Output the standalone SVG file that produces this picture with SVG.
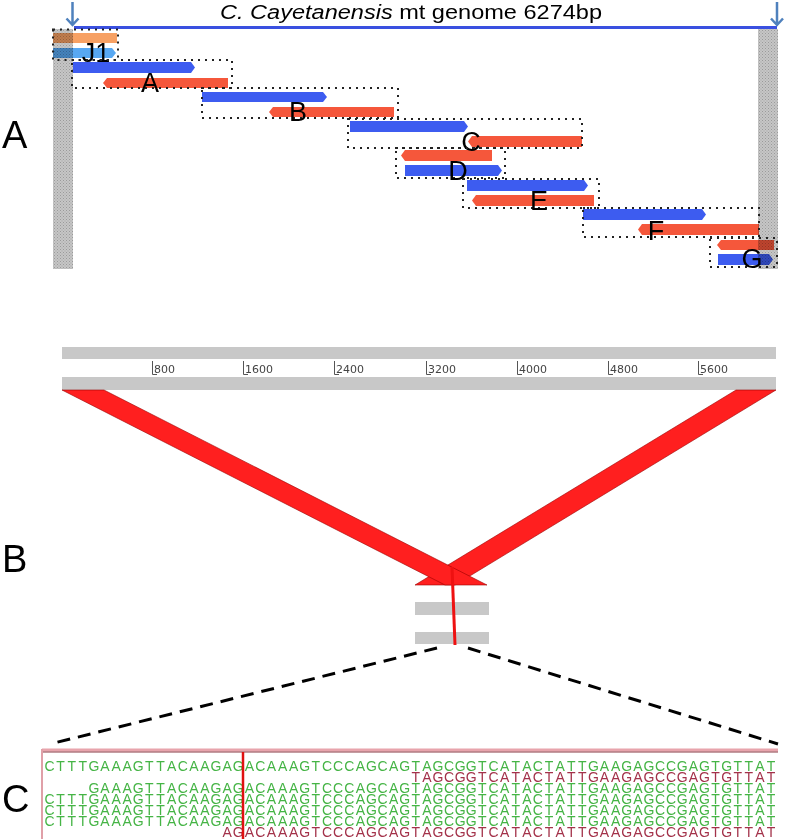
<svg xmlns="http://www.w3.org/2000/svg" width="789" height="839" viewBox="0 0 789 839">
<defs>
<pattern id="hatch" width="3" height="3" patternUnits="userSpaceOnUse">
<rect width="3" height="3" fill="#c6c6c6"/>
<rect width="1" height="1" fill="#9a9a9a"/>
<rect x="1.5" y="1.5" width="1" height="1" fill="#a4a4a4"/>
</pattern>
</defs>
<style>
.big{font-family:"Liberation Sans",Arial,sans-serif;font-size:38px;fill:#000}
.lbl{font-family:"Liberation Sans",Arial,sans-serif;font-size:27px;fill:#000;text-anchor:middle}
.title{font-family:"Liberation Sans",Arial,sans-serif;font-size:20px;fill:#000}
.blue{fill:#3d5cf0;mix-blend-mode:multiply}
.red{fill:#f5573b;mix-blend-mode:multiply}
.lorange{fill:#f7a164;mix-blend-mode:multiply}
.lblue{fill:#58a8f2;mix-blend-mode:multiply}
.box{fill:none;stroke:#222;stroke-width:2;stroke-dasharray:2 5}
.gray{fill:url(#hatch)}
.pin{fill:none;stroke:#4f81bd;stroke-width:2.5}
.ruler{fill:#c8c8c8}
.tick{fill:none;stroke:#555;stroke-width:1}
.rt{font-family:"DejaVu Sans",sans-serif;font-size:11px;fill:#444}
.band{fill:#ff1f1f;stroke:#9a0000;stroke-width:0.6}
.dash{fill:none;stroke:#000;stroke-width:3;stroke-dasharray:13 8}
.seq{font-family:"Liberation Sans",Arial,sans-serif;font-size:14px;text-anchor:middle}
.g{fill:#45b445}
.r{fill:#a3324a}
</style>

<g id="panel-labels">
<text class="big" x="2" y="148">A</text>
<text class="big" x="2" y="572">B</text>
<text class="big" x="2" y="812">C</text>
</g>

<g id="genome">
<text class="title" x="220" y="19" textLength="382" lengthAdjust="spacingAndGlyphs"><tspan font-style="italic">C. Cayetanensis</tspan> mt genome 6274bp</text>
<line x1="74" y1="27.5" x2="777" y2="27.5" stroke="#3a50e0" stroke-width="3"/>
<path class="pin" d="M72.5,2 V25 M66.5,18.5 L72.5,25 L78.5,18.5"/>
<path class="pin" d="M777,2 V25 M771,18.5 L777,25 L783,18.5"/>
<rect class="gray" x="53" y="29" width="20" height="240"/>
<rect class="gray" x="758" y="29" width="20" height="240"/>
</g>

<g id="J1">
<rect class="lorange" x="53" y="33" width="64" height="10"/>
<polygon class="lblue" points="53,48 112,48 116,53 112,58 53,58"/>
<rect class="box" x="53" y="29.5" width="65" height="30.5"/>
<text class="lbl" x="96" y="62">J1</text>
</g>

<g id="A">
<polygon class="blue" points="73,62 191,62 195,67.5 191,73 73,73"/>
<polygon class="red" points="107,78 228,78 228,88 107,88 103,83"/>
<rect class="box" x="72" y="60" width="160" height="28"/>
<text class="lbl" x="150" y="92">A</text>
</g>

<g id="B">
<polygon class="blue" points="202,92 323,92 327,97 323,102 202,102"/>
<polygon class="red" points="273,107 394,107 394,117 273,117 269,112"/>
<rect class="box" x="202" y="88" width="196" height="30"/>
<text class="lbl" x="298" y="121">B</text>
</g>

<g id="C">
<polygon class="blue" points="350,121 464,121 468,126.5 464,132 350,132"/>
<polygon class="red" points="472,136 582,136 582,147 472,147 468,141.5"/>
<rect class="box" x="348" y="119" width="234" height="29"/>
<text class="lbl" x="471" y="151">C</text>
</g>

<g id="D">
<polygon class="red" points="405,150 492,150 492,161 405,161 401,155.5"/>
<polygon class="blue" points="405,165 498,165 502,170.5 498,176 405,176"/>
<rect class="box" x="396" y="148" width="109" height="30"/>
<text class="lbl" x="458" y="180">D</text>
</g>

<g id="E">
<polygon class="blue" points="467,180 584,180 588,185.5 584,191 467,191"/>
<polygon class="red" points="476,195 594,195 594,206 476,206 472,200.5"/>
<rect class="box" x="463" y="179" width="136" height="29"/>
<text class="lbl" x="539" y="210">E</text>
</g>

<g id="F">
<polygon class="blue" points="583,209 702,209 706,214.5 702,220 583,220"/>
<polygon class="red" points="642,224 759,224 759,235 642,235 638,229.5"/>
<rect class="box" x="583" y="208" width="176" height="29"/>
<text class="lbl" x="656" y="240">F</text>
</g>

<g id="G">
<polygon class="red" points="721,240 774,240 774,250 721,250 717,245"/>
<polygon class="blue" points="718,254 769,254 773,259.5 769,265 718,265"/>
<rect class="box" x="710" y="238" width="67" height="29"/>
<text class="lbl" x="752" y="268">G</text>
</g>

<g id="ruler">
<rect class="ruler" x="62" y="347" width="714" height="12"/>
<rect class="ruler" x="62" y="377" width="714" height="13"/>
<path class="tick" d="M152.5,361 V374.5 H157 M243.5,361 V374.5 H248 M334.5,361 V374.5 H339 M426.5,361 V374.5 H431 M517.5,361 V374.5 H522 M608.5,361 V374.5 H613 M698.5,361 V374.5 H703"/>
<text class="rt" x="154" y="373">800</text>
<text class="rt" x="245" y="373">1600</text>
<text class="rt" x="336" y="373">2400</text>
<text class="rt" x="428" y="373">3200</text>
<text class="rt" x="519" y="373">4000</text>
<text class="rt" x="610" y="373">4800</text>
<text class="rt" x="700" y="373">5600</text>
</g>

<g id="zoom-bars">
<rect class="ruler" x="415" y="602" width="74" height="13"/>
<rect class="ruler" x="415" y="632" width="74" height="12"/>
</g>

<g id="connectors">
<polygon class="band" points="736,390 776,390 455,585 415,585"/>
<polygon class="band" points="62,390 104,390 487,585 445,585"/>
<line x1="452" y1="567" x2="455" y2="645" stroke="#ee1111" stroke-width="3"/>
<line class="dash" x1="437" y1="648" x2="50" y2="744"/>
<line class="dash" x1="468" y1="648" x2="778" y2="744"/>
</g>

<g id="alignment">
<line x1="42" y1="750" x2="778" y2="750" stroke="#e8a4ac" stroke-width="3"/>
<line x1="42" y1="752" x2="778" y2="752" stroke="#8a3a44" stroke-width="1"/>
<line x1="42" y1="749" x2="42" y2="839" stroke="#e0a0a8" stroke-width="2"/>
<text class="seq g" y="771" x="49.5 60.6 71.7 82.8 93.9 105 116.1 127.2 138.3 149.4 160.5 171.6 182.7 193.8 204.9 216 227.1 238.2 249.3 260.4 271.5 282.6 293.7 304.8 315.9 327 338.1 349.2 360.3 371.4 382.5 393.6 404.7 415.8 426.9 438 449.1 460.2 471.3 482.4 493.5 504.6 515.7 526.8 537.9 549 560.1 571.2 582.3 593.4 604.5 615.6 626.7 637.8 648.9 660 671.1 682.2 693.3 704.4 715.5 726.6 737.7 748.8 759.9 771">CTTTGAAAGTTACAAGAGACAAAGTCCCAGCAGTAGCGGTCATACTATTGAAGAGCCGAGTGTTAT</text>
<text class="seq r" y="782" x="415.8 426.9 438 449.1 460.2 471.3 482.4 493.5 504.6 515.7 526.8 537.9 549 560.1 571.2 582.3 593.4 604.5 615.6 626.7 637.8 648.9 660 671.1 682.2 693.3 704.4 715.5 726.6 737.7 748.8 759.9 771">TAGCGGTCATACTATTGAAGAGCCGAGTGTTAT</text>
<text class="seq g" y="793" x="93.9 105 116.1 127.2 138.3 149.4 160.5 171.6 182.7 193.8 204.9 216 227.1 238.2 249.3 260.4 271.5 282.6 293.7 304.8 315.9 327 338.1 349.2 360.3 371.4 382.5 393.6 404.7 415.8 426.9 438 449.1 460.2 471.3 482.4 493.5 504.6 515.7 526.8 537.9 549 560.1 571.2 582.3 593.4 604.5 615.6 626.7 637.8 648.9 660 671.1 682.2 693.3 704.4 715.5 726.6 737.7 748.8 759.9 771">GAAAGTTACAAGAGACAAAGTCCCAGCAGTAGCGGTCATACTATTGAAGAGCCGAGTGTTAT</text>
<text class="seq g" y="804" x="49.5 60.6 71.7 82.8 93.9 105 116.1 127.2 138.3 149.4 160.5 171.6 182.7 193.8 204.9 216 227.1 238.2 249.3 260.4 271.5 282.6 293.7 304.8 315.9 327 338.1 349.2 360.3 371.4 382.5 393.6 404.7 415.8 426.9 438 449.1 460.2 471.3 482.4 493.5 504.6 515.7 526.8 537.9 549 560.1 571.2 582.3 593.4 604.5 615.6 626.7 637.8 648.9 660 671.1 682.2 693.3 704.4 715.5 726.6 737.7 748.8 759.9 771">CTTTGAAAGTTACAAGAGACAAAGTCCCAGCAGTAGCGGTCATACTATTGAAGAGCCGAGTGTTAT</text>
<text class="seq g" y="815" x="49.5 60.6 71.7 82.8 93.9 105 116.1 127.2 138.3 149.4 160.5 171.6 182.7 193.8 204.9 216 227.1 238.2 249.3 260.4 271.5 282.6 293.7 304.8 315.9 327 338.1 349.2 360.3 371.4 382.5 393.6 404.7 415.8 426.9 438 449.1 460.2 471.3 482.4 493.5 504.6 515.7 526.8 537.9 549 560.1 571.2 582.3 593.4 604.5 615.6 626.7 637.8 648.9 660 671.1 682.2 693.3 704.4 715.5 726.6 737.7 748.8 759.9 771">CTTTGAAAGTTACAAGAGACAAAGTCCCAGCAGTAGCGGTCATACTATTGAAGAGCCGAGTGTTAT</text>
<text class="seq g" y="826" x="49.5 60.6 71.7 82.8 93.9 105 116.1 127.2 138.3 149.4 160.5 171.6 182.7 193.8 204.9 216 227.1 238.2 249.3 260.4 271.5 282.6 293.7 304.8 315.9 327 338.1 349.2 360.3 371.4 382.5 393.6 404.7 415.8 426.9 438 449.1 460.2 471.3 482.4 493.5 504.6 515.7 526.8 537.9 549 560.1 571.2 582.3 593.4 604.5 615.6 626.7 637.8 648.9 660 671.1 682.2 693.3 704.4 715.5 726.6 737.7 748.8 759.9 771">CTTTGAAAGTTACAAGAGACAAAGTCCCAGCAGTAGCGGTCATACTATTGAAGAGCCGAGTGTTAT</text>
<text class="seq r" y="837" x="227.1 238.2 249.3 260.4 271.5 282.6 293.7 304.8 315.9 327 338.1 349.2 360.3 371.4 382.5 393.6 404.7 415.8 426.9 438 449.1 460.2 471.3 482.4 493.5 504.6 515.7 526.8 537.9 549 560.1 571.2 582.3 593.4 604.5 615.6 626.7 637.8 648.9 660 671.1 682.2 693.3 704.4 715.5 726.6 737.7 748.8 759.9 771">AGACAAAGTCCCAGCAGTAGCGGTCATACTATTGAAGAGCCGAGTGTTAT</text>
<line x1="243" y1="752" x2="243" y2="839" stroke="#e01010" stroke-width="2.5"/>
</g>
</svg>
